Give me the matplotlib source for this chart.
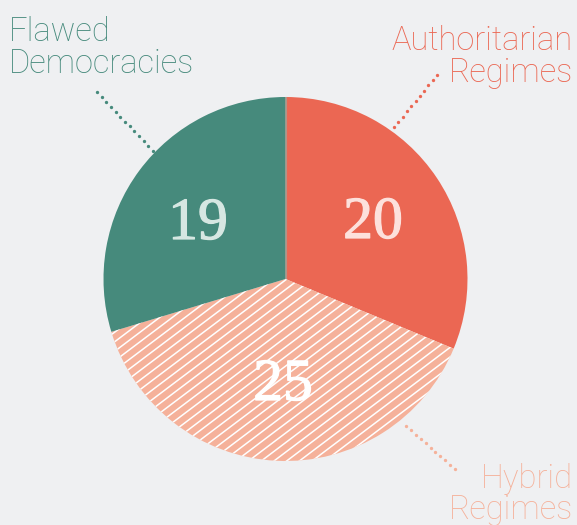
import numpy as np
import matplotlib
matplotlib.use("Agg")
import matplotlib.pyplot as plt
import matplotlib.patheffects as pe

# Data
categories = ["Authoritarian\nRegimes", "Hybrid\nRegimes", "Flawed\nDemocracies"]
values = [20, 25, 19]
colors = ["#eb6753", "#f5b19a", "#468a7c"]
text_colors = ["#fde1dc", "#ffffff", "#d6e7e2"]
label_colors = ["#eb6753", "#f5b19a", "#468a7c"]

W, H = 577, 525
BG = "#eff0f2"
fig = plt.figure(figsize=(W / 100, H / 100), dpi=100, facecolor=BG)
ax = fig.add_axes([0, 0, 1, 1])
ax.set_facecolor(BG)

def Y(py):
    return H - py

cx, cy, R = 285.5, Y(279), 182

wedges, _ = ax.pie(values, startangle=90, counterclock=False, colors=colors,
                   center=(cx, cy), radius=R, frame=True,
                   wedgeprops=dict(linewidth=0))
ax.set_xlim(0, W)
ax.set_ylim(0, H)
ax.set_aspect("equal")
ax.axis("off")

# thin light separator between green and red at the top
ax.plot([cx, cx], [cy, cy + R], color="#8fb3aa", lw=0.8, alpha=0.6, zorder=3)

# Hatching for the hybrid wedge
hw = wedges[1]
ang = np.deg2rad(37)
sp = 12.7  # horizontal spacing
for x0 in np.arange(-700, 900, sp):
    xs = np.array([x0, x0 + 800])
    ys = np.array([0, 800 * np.tan(ang)])
    ln, = ax.plot(xs, ys, color="white", lw=1.1, zorder=4, solid_capstyle="butt")
    ln.set_clip_path(hw)

# Numbers
num_pos = [(373, 238), (283, 400), (198, 239)]
for v, (px, py), c in zip(values, num_pos, text_colors):
    ax.text(px, Y(py), str(v), fontsize=43, family="Liberation Serif", color=c,
            ha="center", va="baseline", zorder=5,
            path_effects=[pe.withStroke(linewidth=0.9, foreground=c)])

# Labels
lab_font = dict(family="Roboto", fontweight="light", fontsize=23.5)
ax.text(573, Y(50), categories[0].split("\n")[0], ha="right", va="baseline",
        color=label_colors[0], **lab_font)
ax.text(573, Y(82), categories[0].split("\n")[1], ha="right", va="baseline",
        color=label_colors[0], **lab_font)
ax.text(573, Y(488), categories[1].split("\n")[0], ha="right", va="baseline",
        color=label_colors[1], **lab_font)
ax.text(573, Y(519), categories[1].split("\n")[1], ha="right", va="baseline",
        color=label_colors[1], **lab_font)
ax.text(9, Y(41), categories[2].split("\n")[0], ha="left", va="baseline",
        color=label_colors[2], **lab_font)
ax.text(9, Y(73), categories[2].split("\n")[1], ha="left", va="baseline",
        color=label_colors[2], **lab_font)

# Dotted leaders
leaders = [((437, 75), (394, 127)), ((406, 426), (455, 469)), ((97, 92), (153, 151))]
for ((x1, y1), (x2, y2)), c in zip(leaders, label_colors):
    n = int(np.hypot(x2 - x1, y2 - y1) / 6.3) + 1
    xs = np.linspace(x1, x2, n)
    ys = np.linspace(Y(y1), Y(y2), n)
    ax.plot(xs, ys, ls="none", marker="o", ms=2.4, color=c, mew=0, zorder=6)

fig.savefig("out.png", dpi=100, facecolor=BG)
